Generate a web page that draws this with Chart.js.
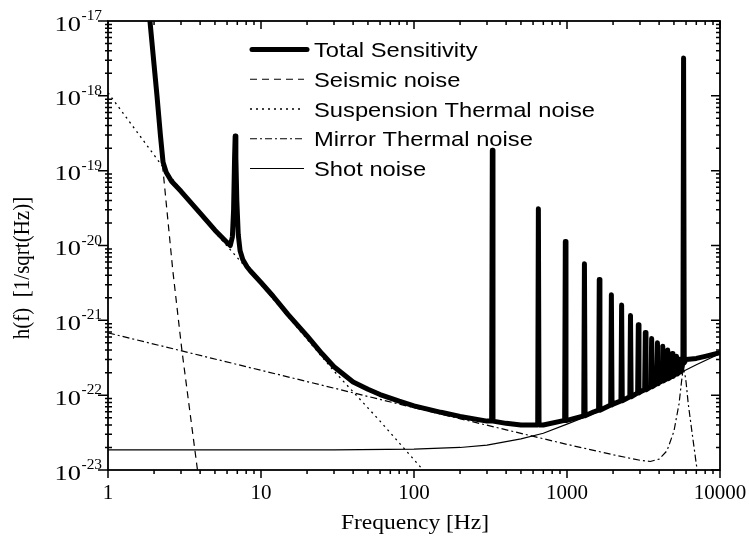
<!DOCTYPE html>
<html>
<head>
<meta charset="utf-8">
<script src="https://cdn.jsdelivr.net/npm/chart.js@4.4.1/dist/chart.umd.min.js"></script>
<style>
  body { margin: 0; background: #fff; }
  #wrap { width: 749px; height: 537px; position: relative; }
</style>
</head>
<body>
<div id="wrap"><canvas id="chart"></canvas></div>
<script>
// values (frequency in Hz, h(f) in 1/sqrt(Hz))
var totalF = [1.8, 1.88, 2.0, 2.09, 2.2, 2.29, 2.4, 2.6, 3, 4, 5, 6, 6.3, 6.5, 6.62, 6.72, 6.78, 6.85, 6.95, 7.1, 7.3, 7.6, 8.1, 8.5,
  10, 12, 15, 20, 25, 30, 40, 50, 60, 80, 100, 150, 200, 300, 400, 500, 700, 1000, 1500, 2000, 3000, 4000, 5000, 5500, 6000, 7000, 8000, 10000];
var totalH = [3e-17, 1e-17, 2.6e-18, 1e-18, 3e-19, 1.3e-19, 9.5e-20, 7.2e-20, 5.3e-20, 2.7e-20, 1.6e-20, 1.1e-20, 1.0e-20, 1.3e-20, 3e-20, 1.5e-19, 2.9e-19, 1.5e-19, 4e-20, 1.4e-20, 8.5e-21, 6.5e-21, 5.2e-21, 4.6e-21,
  3.2e-21, 2.1e-21, 1.2e-21, 6.2e-22, 3.6e-22, 2.4e-22, 1.5e-22, 1.2e-22, 1.02e-22, 8.3e-23, 7.2e-23, 5.9e-23, 5.2e-23, 4.5e-23, 4.2e-23, 4.0e-23, 4.0e-23, 4.6e-23, 6.0e-23, 7.6e-23, 1.1e-22, 1.47e-22, 1.84e-22, 2.1e-22, 3.0e-22, 3.1e-22, 3.3e-22, 3.7e-22];

// violin-mode comb and the big mirror resonance
var combF = [325, 650, 975, 1300, 1625, 1950, 2275, 2600, 2925, 3250, 3575, 3900, 4225, 4550, 4875, 5200, 5525, 5780];
var combTop = [1.87e-19, 3.1e-20, 1.13e-20, 5.7e-21, 3.5e-21, 2.2e-21, 1.6e-21, 1.16e-21, 8.7e-22, 6.9e-22, 5.7e-22, 5.0e-22, 4.5e-22, 4.0e-22, 3.6e-22, 3.3e-22, 3.05e-22, 3.2e-18];
var combBase = [4.5e-23, 4.0e-23, 4.6e-23, 5.3e-23, 6.3e-23, 7.4e-23, 8.4e-23, 9.5e-23, 1.07e-22, 1.18e-22, 1.3e-22, 1.42e-22, 1.55e-22, 1.66e-22, 1.78e-22, 1.92e-22, 2.05e-22, 2.7e-22];

var seismicF = [1.8, 1.88, 2.09, 2.29, 2.65, 3.04, 3.8, 3.9];
var seismicH = [3e-17, 1e-17, 1e-18, 1e-19, 4.7e-21, 4e-22, 1.2e-23, 8e-24];

var suspF = [1, 2.3, 5, 10, 20, 30, 60, 120];
var suspH = [1.1e-18, 1.1e-19, 1.5e-20, 3.0e-21, 5.6e-22, 2.1e-22, 4.5e-23, 9e-24];

var mirrorF = [1, 10, 100, 1000, 2000, 3000, 3500, 4000, 4500, 5000, 5400, 5600, 5750, 5900, 6000, 6200, 6500, 7000, 7200];
var mirrorH = [6.8e-22, 2.15e-22, 6.8e-23, 2.2e-23, 1.6e-23, 1.35e-23, 1.3e-23, 1.4e-23, 1.8e-23, 3.3e-23, 7.7e-23, 1.5e-22, 2.3e-22, 1.9e-22, 1.5e-22, 7.7e-23, 3.7e-23, 1.2e-23, 8e-24];

var shotF = [1, 30, 100, 200, 300, 500, 700, 1000, 1500, 2000, 3000, 5000, 7000, 10000];
var shotH = [1.86e-23, 1.86e-23, 1.9e-23, 2.0e-23, 2.15e-23, 2.6e-23, 3.1e-23, 4.1e-23, 5.7e-23, 7.4e-23, 1.1e-22, 1.8e-22, 2.55e-22, 3.6e-22];

var xTicks = [1, 10, 100, 1000, 10000];
var yExp = [-23, -22, -21, -20, -19, -18, -17];
var labels = ['Total Sensitivity', 'Seismic noise', 'Suspension Thermal noise', 'Mirror Thermal noise', 'Shot noise'];

function pts(f, h) {
  return f.map(function (v, i) { return {x: v, y: h[i]}; });
}

// total curve with the narrow resonance spikes put in
var totalPts = pts(totalF, totalH);
combF.forEach(function (f, i) {
  totalPts.push({x: f * 0.99, y: combBase[i]});
  totalPts.push({x: f, y: combTop[i]});
  totalPts.push({x: f * 1.01, y: combBase[i]});
});
totalPts.sort(function (a, b) { return a.x - b.x; });

function sText(ctx, txt, x, y, sx, align) {
  ctx.save();
  ctx.translate(x, y);
  ctx.scale(sx, 1);
  ctx.textAlign = align;
  ctx.fillText(txt, 0, 0);
  ctx.restore();
}

var frame = {
  id: 'frame',
  afterDraw: function (chart) {
    var ctx = chart.ctx, a = chart.chartArea;
    var xs = chart.scales.x, ys = chart.scales.y;
    ctx.save();
    ctx.strokeStyle = '#000';
    ctx.lineWidth = 1.8;
    ctx.strokeRect(a.left, a.top, a.right - a.left, a.bottom - a.top);
    ctx.lineWidth = 1.5;
    ctx.beginPath();
    // x ticks
    for (var d = 1; d <= 10000; d *= 10) {
      var px = xs.getPixelForValue(d);
      ctx.moveTo(px, a.bottom); ctx.lineTo(px, a.bottom + 8);
      ctx.moveTo(px, a.top); ctx.lineTo(px, a.top + 8);
      if (d < 10000) {
        for (var m = 2; m <= 9; m++) {
          var q = xs.getPixelForValue(d * m);
          ctx.moveTo(q, a.bottom); ctx.lineTo(q, a.bottom + 4);
          ctx.moveTo(q, a.top); ctx.lineTo(q, a.top + 4);
        }
      }
    }
    // y ticks
    yExp.forEach(function (e, k) {
      var v = Number('1e' + e);
      var py = ys.getPixelForValue(v);
      ctx.moveTo(a.left - 10, py); ctx.lineTo(a.left, py);
      ctx.moveTo(a.right - 9, py); ctx.lineTo(a.right, py);
      if (k < yExp.length - 1) {
        for (var m = 2; m <= 9; m++) {
          var q = ys.getPixelForValue(v * m);
          ctx.moveTo(a.left - 3, q); ctx.lineTo(a.left + 4, q);
          ctx.moveTo(a.right - 4, q); ctx.lineTo(a.right, q);
        }
      }
    });
    ctx.stroke();

    // tick labels
    ctx.fillStyle = '#000';
    ctx.textBaseline = 'alphabetic';
    yExp.forEach(function (e) {
      var py = ys.getPixelForValue(Number('1e' + e));
      ctx.font = '22px "Liberation Serif"';
      sText(ctx, '10', 81, py + 9.5, 1.2, 'right');
      ctx.font = '14px "Liberation Serif"';
      sText(ctx, String(e), 81.5, py - 1, 1.1, 'left');
    });
    ctx.font = '21px "Liberation Serif"';
    xTicks.forEach(function (t) {
      sText(ctx, String(t), xs.getPixelForValue(t), 499, 1, 'center');
    });
    // axis titles
    sText(ctx, 'Frequency [Hz]', 415, 529, 1.12, 'center');
    ctx.save();
    ctx.translate(23, 268);
    ctx.scale(1.1, 1);
    ctx.rotate(-Math.PI / 2);
    ctx.textAlign = 'center';
    ctx.textBaseline = 'middle';
    ctx.fillText('h(f)  [1/sqrt(Hz)]', 0, 0);
    ctx.restore();

    // legend
    ctx.font = '21px "Liberation Sans"';
    chart.data.datasets.forEach(function (ds, i) {
      var ly = 49.5 + 29.75 * i;
      ctx.save();
      ctx.lineWidth = ds.borderWidth;
      ctx.setLineDash(ds.borderDash || []);
      ctx.lineCap = i === 0 ? 'round' : 'butt';
      ctx.beginPath();
      ctx.moveTo(i === 0 ? 252 : 250, ly);
      ctx.lineTo(i === 0 ? 307 : 304, ly);
      ctx.stroke();
      ctx.restore();
      sText(ctx, ds.label, 314, ly + 7.5, 1.13, 'left');
    });
    ctx.restore();
  }
};

function line(label, data, width, dash) {
  return {
    label: label,
    data: data,
    showLine: true,
    borderColor: '#000',
    backgroundColor: '#000',
    borderWidth: width,
    borderDash: dash,
    borderJoinStyle: 'round',
    borderCapStyle: 'butt',
    pointRadius: 0,
    tension: 0,
    fill: false
  };
}

var chart = new Chart('chart', {
  type: 'scatter',
  data: {
    datasets: [
      line(labels[0], totalPts, 5, []),
      line(labels[1], pts(seismicF, seismicH), 1.2, [7, 5]),
      line(labels[2], pts(suspF, suspH), 1.3, [2, 4]),
      line(labels[3], pts(mirrorF, mirrorH), 1.2, [7, 3, 2, 3]),
      line(labels[4], pts(shotF, shotH), 1.2, [])
    ]
  },
  options: {
    responsive: true,
    maintainAspectRatio: false,
    animation: false,
    layout: { padding: { left: 108, top: 21, right: 29, bottom: 67 } },
    plugins: { legend: { display: false }, tooltip: { enabled: false } },
    scales: {
      x: {
        type: 'logarithmic', min: 1, max: 10000,
        grid: { display: false }, border: { display: false }, ticks: { display: false },
        afterFit: function (s) { s.height = 0; }
      },
      y: {
        type: 'logarithmic', min: 1e-23, max: 1e-17,
        grid: { display: false }, border: { display: false }, ticks: { display: false },
        afterFit: function (s) { s.width = 0; }
      }
    }
  },
  plugins: [frame]
});
</script>
</body>
</html>
